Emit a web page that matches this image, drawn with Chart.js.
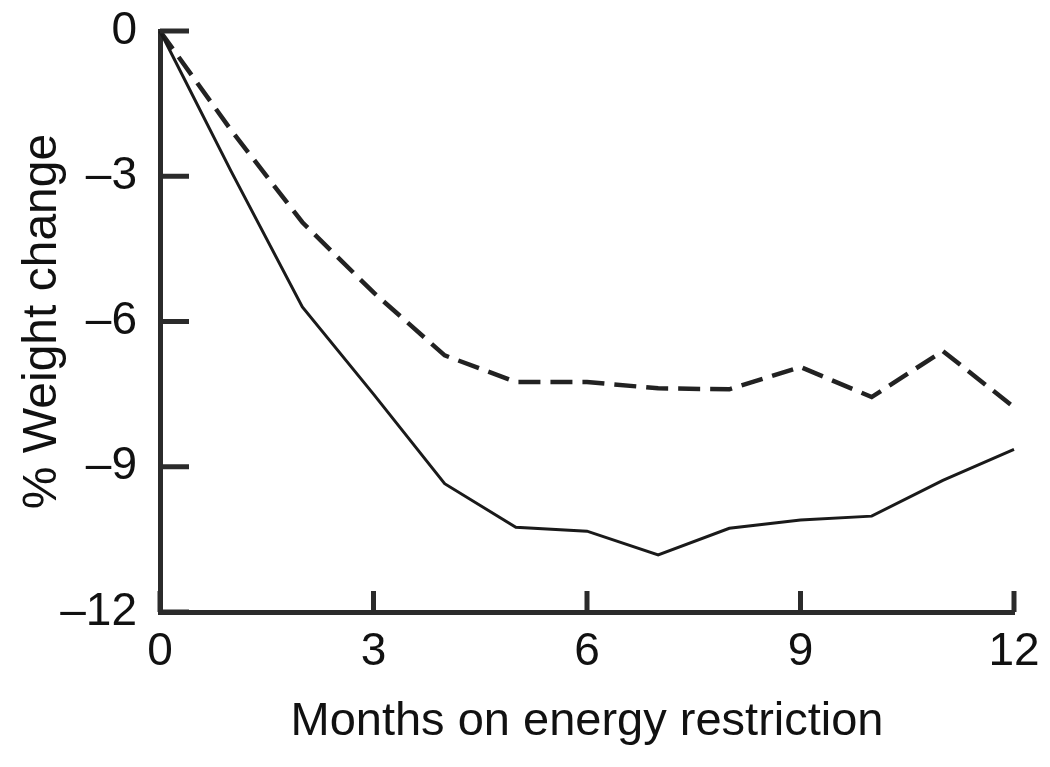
<!DOCTYPE html>
<html lang="en">
<head>
    <meta charset="UTF-8">
    <title>Weight change</title>
    <script src="https://cdn.jsdelivr.net/npm/chart.js"></script>
    <style>
        body {
            margin: 0;
            background: #ffffff;
        }
        #wrap {
            width: 1050px;
            height: 767px;
        }
    </style>
</head>
<body>
    <div id="wrap">
        <canvas id="weightChart" width="1050" height="767"></canvas>
    </div>
<script>
    // months on the x axis
    const months = [0, 1, 2, 3, 4, 5, 6, 7, 8, 9, 10, 11, 12];
    // solid line
    const solidValues = [0, -2.9, -5.7, -7.5, -9.35, -10.25, -10.33, -10.82, -10.27, -10.1, -10.02, -9.28, -8.64];
    // dashed line
    const dashedValues = [0, -2.05, -3.95, -5.4, -6.7, -7.25, -7.25, -7.38, -7.4, -6.94, -7.56, -6.61, -7.77];
    const xTicks = [0, 3, 6, 9, 12];
    const yTicks = [0, -3, -6, -9, -12];

    const fontFamily = "'Liberation Sans', Arial, sans-serif";
    const axisColor = '#2b2b2b';

    function toPoints(values) {
        return months.map((m, i) => ({ x: m, y: values[i] }));
    }

    // tick marks pointing into the plot
    const innerTicks = {
        id: 'innerTicks',
        afterDraw(chart) {
            const ctx = chart.ctx;
            const area = chart.chartArea;
            const xs = chart.scales.x;
            const ys = chart.scales.y;
            ctx.save();
            ctx.strokeStyle = axisColor;
            ctx.lineWidth = 5;
            ctx.lineCap = 'butt';
            yTicks.forEach(v => {
                const py = ys.getPixelForValue(v);
                ctx.beginPath();
                ctx.moveTo(area.left, py);
                ctx.lineTo(area.left + 29, py);
                ctx.stroke();
            });
            xTicks.forEach(v => {
                const px = xs.getPixelForValue(v);
                ctx.beginPath();
                ctx.moveTo(px, area.bottom);
                ctx.lineTo(px, area.bottom - 21);
                ctx.stroke();
            });
            ctx.restore();
        }
    };

    const ctx = document.getElementById('weightChart').getContext('2d');
    new Chart(ctx, {
        type: 'line',
        data: {
            datasets: [{
                label: 'Solid',
                data: toPoints(solidValues),
                borderColor: '#1a1a1a',
                borderWidth: 3,
                pointRadius: 0,
                tension: 0,
                fill: false,
                clip: false
            }, {
                label: 'Dashed',
                data: toPoints(dashedValues),
                borderColor: '#222222',
                borderWidth: 4.5,
                borderDash: [22, 10],
                pointRadius: 0,
                tension: 0,
                fill: false,
                clip: false
            }]
        },
        options: {
            responsive: false,
            animation: false,
            layout: {
                padding: { top: 31, right: 36, left: 0, bottom: 0 }
            },
            plugins: {
                legend: { display: false },
                tooltip: { enabled: false }
            },
            scales: {
                x: {
                    type: 'linear',
                    min: 0,
                    max: 12,
                    afterFit(scale) {
                        scale.height = 155;
                        scale.paddingLeft = 0;
                        scale.paddingRight = 0;
                    },
                    afterBuildTicks(scale) { scale.ticks = xTicks.map(v => ({ value: v })); },
                    grid: { display: false, drawTicks: false },
                    border: { display: true, color: axisColor, width: 5 },
                    ticks: {
                        padding: 13,
                        color: '#111111',
                        font: { family: fontFamily, size: 46 }
                    },
                    title: {
                        display: true,
                        text: 'Months on energy restriction',
                        color: '#111111',
                        padding: { top: 0, bottom: 17 },
                        font: { family: fontFamily, size: 47 }
                    }
                },
                y: {
                    type: 'linear',
                    min: -12,
                    max: 0,
                    afterFit(scale) {
                        scale.width = 160;
                        scale.paddingTop = 0;
                        scale.paddingBottom = 0;
                    },
                    afterBuildTicks(scale) { scale.ticks = yTicks.map(v => ({ value: v })); },
                    grid: { display: false, drawTicks: false },
                    border: { display: true, color: axisColor, width: 5 },
                    ticks: {
                        padding: 23,
                        color: '#111111',
                        font: { family: fontFamily, size: 46 },
                        callback: v => (v < 0 ? '\u2013' + Math.abs(v) : String(v))
                    },
                    title: {
                        display: true,
                        text: '% Weight change',
                        color: '#111111',
                        padding: { top: 14, bottom: 0 },
                        font: { family: fontFamily, size: 48 }
                    }
                }
            }
        },
        plugins: [innerTicks]
    });
</script>
</body>
</html>
